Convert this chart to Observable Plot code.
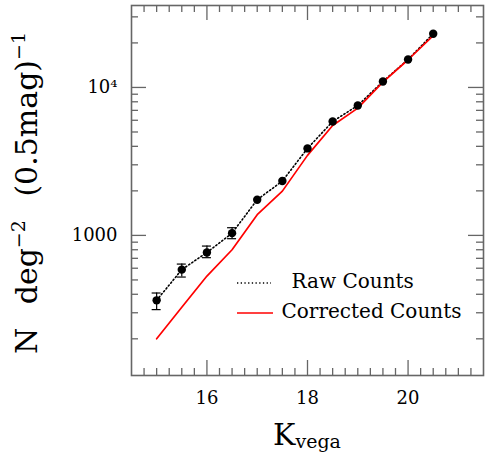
<!DOCTYPE html>
<html><head><meta charset="utf-8">
<script src="https://cdn.jsdelivr.net/npm/d3@7"></script>
<script src="https://cdn.jsdelivr.net/npm/@observablehq/plot@0.6"></script>
<style>body{margin:0;background:#fff} svg{display:block;background:#fff}</style>
</head><body><div id="chart"></div>
<script>
// ---- data ----
const mags      = [15, 15.5, 16, 16.5, 17, 17.5, 18, 18.5, 19, 19.5, 20, 20.5];
const rawCounts = [364, 587, 767, 1036, 1742, 2330, 3872, 5888, 7554, 10980, 15460, 23070];
const rawLo     = [315, 523, 707, 950, null, null, null, null, null, null, null, null];
const rawHi     = [408, 640, 847, 1127, null, null, null, null, null, null, null, null];
const corrected = [200, 327, 531, 800, 1380, 1992, 3474, 5534, 7245, 10860, 15390, 22430];
const xTickValues = [16, 18, 20];
const yTickValues = [1000, 10000];
const yTickLabels = ["1000", "10\u2074"];
const seriesNames = ["Raw Counts", "Corrected Counts"];
const xTitle = ["K", "vega"];

// ---- layout ----
const W = 490, H = 466, mL = 131, mR = 7, mT = 5, mB = 91;
const iw = W - mL - mR, ih = H - mT - mB;
const frameColor = "#666";
const font = "DejaVu Serif";
const xDomain = [14.5, 21.5], yDomain = [113, 35800];

const rows = mags.map((m, i) => ({m, raw: rawCounts[i], lo: rawLo[i], hi: rawHi[i], cor: corrected[i]}));
const errRows = rows.filter(d => d.lo != null);

const xMinor = d3.range(14.75, 21.5, 0.25).filter(v => !xTickValues.includes(v));
const yMinor = [];
for (const dec of [100, 1000, 10000]) for (let k = 2; k <= 9; k++) {
  const v = k * dec; if (v > yDomain[0] && v < yDomain[1]) yMinor.push(v);
}
const majLen = 15, minLen = 7;
const tickOpts = (len, side) => {
  const o = {stroke: frameColor, strokeWidth: 1.3};
  if (side === "bottom") o.insetTop = ih - len;
  if (side === "top") o.insetBottom = ih - len;
  if (side === "left") o.insetRight = iw - len;
  if (side === "right") o.insetLeft = iw - len;
  return o;
};

const plot = Plot.plot({
  width: W, height: H,
  marginLeft: mL, marginRight: mR, marginTop: mT, marginBottom: mB,
  style: {fontFamily: font, background: "#fff"},
  x: {domain: xDomain},
  y: {type: "log", domain: yDomain},
  marks: [
    Plot.tickX(xTickValues, {x: d => d, ...tickOpts(majLen, "bottom")}),
    Plot.tickX(xTickValues, {x: d => d, ...tickOpts(majLen, "top")}),
    Plot.tickX(xMinor, {x: d => d, ...tickOpts(minLen, "bottom")}),
    Plot.tickX(xMinor, {x: d => d, ...tickOpts(minLen, "top")}),
    Plot.tickY(yTickValues, {y: d => d, ...tickOpts(majLen, "left")}),
    Plot.tickY(yTickValues, {y: d => d, ...tickOpts(majLen, "right")}),
    Plot.tickY(yMinor, {y: d => d, ...tickOpts(minLen, "left")}),
    Plot.tickY(yMinor, {y: d => d, ...tickOpts(minLen, "right")}),
    Plot.frame({stroke: frameColor, strokeWidth: 1.6}),
    Plot.line(rows, {x: "m", y: "raw", stroke: "black", strokeWidth: 1.6, strokeDasharray: "1.3,2.4"}),
    Plot.line(rows, {x: "m", y: "cor", stroke: "#ff0000", strokeWidth: 1.7}),
    Plot.ruleX(errRows, {x: "m", y1: "lo", y2: "hi", stroke: "black", strokeWidth: 1.2}),
    Plot.ruleY(errRows, {x1: "m", x2: "m", y: "lo", stroke: "black", strokeWidth: 1.2, insetLeft: -4.5, insetRight: -4.5}),
    Plot.ruleY(errRows, {x1: "m", x2: "m", y: "hi", stroke: "black", strokeWidth: 1.2, insetLeft: -4.5, insetRight: -4.5}),
    Plot.dot(rows, {x: "m", y: "raw", r: 4.2, fill: "black", stroke: "none"}),
    Plot.axisX(xTickValues, {tickSize: 0, tickPadding: 16, fontSize: 18, label: null}),
    Plot.axisY(yTickValues, {tickSize: 0, tickPadding: 14, fontSize: 18, label: null,
      tickFormat: d => yTickLabels[yTickValues.indexOf(d)]}),
    Plot.text([seriesNames[0]], {frameAnchor: "top-left", dx: 160, dy: 268, textAnchor: "start", fontSize: 20, fill: "black"}),
    Plot.text([seriesNames[1]], {frameAnchor: "top-left", dx: 150, dy: 298, textAnchor: "start", fontSize: 20, fill: "black"})
  ]
});
document.getElementById("chart").appendChild(plot);

// legend samples & axis titles
const svg = d3.select(plot);
svg.append("line").attr("x1", 237).attr("x2", 271).attr("y1", 283).attr("y2", 283)
  .attr("stroke", "black").attr("stroke-width", 1.6).attr("stroke-dasharray", "1.3,2.4");
svg.append("line").attr("x1", 237).attr("x2", 273).attr("y1", 313).attr("y2", 313)
  .attr("stroke", "#ff0000").attr("stroke-width", 1.7);

const xt = svg.append("text").attr("x", 307).attr("y", 445).attr("text-anchor", "middle")
  .attr("font-family", font).attr("font-size", 30).attr("fill", "black");
xt.append("tspan").text(xTitle[0]);
xt.append("tspan").attr("font-size", 19).attr("dy", 3).text(xTitle[1]);

const yt = svg.append("text").attr("transform", "translate(37,193) rotate(-90)")
  .attr("text-anchor", "middle").attr("font-family", font).attr("font-size", 30)
  .attr("fill", "black").attr("word-spacing", 14);
yt.append("tspan").text("N deg");
yt.append("tspan").attr("font-size", 19).attr("dy", -12).text("\u22122");
yt.append("tspan").attr("dy", 12).text(" (0.5mag)");
yt.append("tspan").attr("font-size", 19).attr("dy", -12).text("\u22121");
</script></body></html>
